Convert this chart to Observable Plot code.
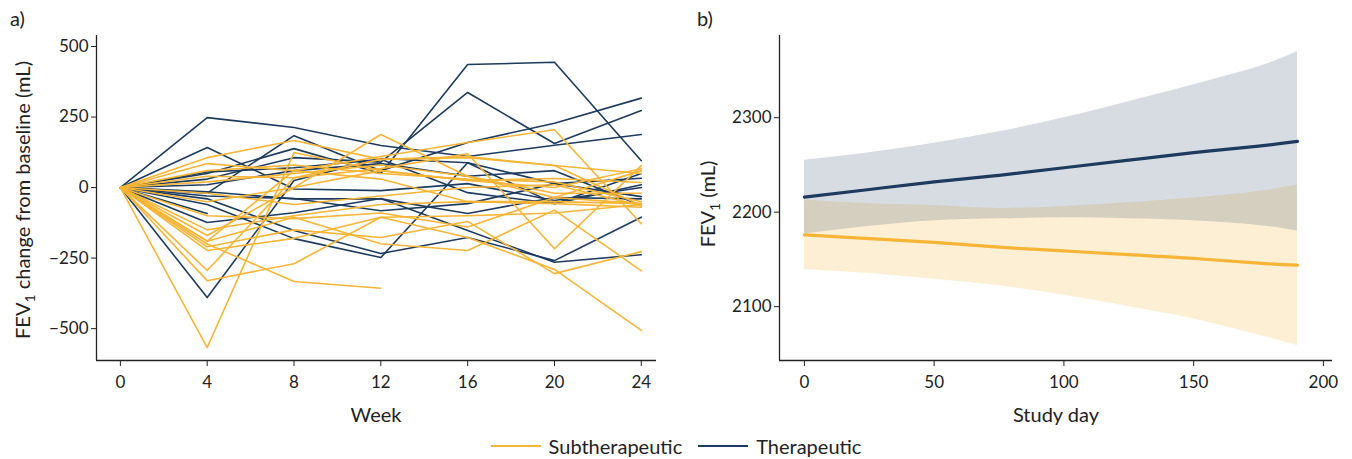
<!DOCTYPE html>
<html>
<head>
<meta charset="utf-8">
<script src="https://cdn.jsdelivr.net/npm/d3@7"></script>
<script src="https://cdn.jsdelivr.net/npm/@observablehq/plot@0.6"></script>
<style>
  body { margin: 0; background: #fff; font-family: "Source Sans Pro", Lato, sans-serif; color: #222; }
  #charts { display: flex; width: 1352px; }
  #legend { width: 1352px; height: 27px; display: flex; justify-content: center; align-items: center; font-size: 20px; }
  .item { display: flex; align-items: center; margin: 0 8px; }
  .swatch { width: 50px; height: 0; border-top: 2px solid; margin-right: 8px; }
</style>
</head>
<body>
<div id="charts"></div>
<div id="legend"></div>
<script>
// ---------- Panel a: individual FEV1 change from baseline (mL) ----------
const weeks = [0, 4, 8, 12, 16, 20, 24];
const weekTicks = [0, 4, 8, 12, 16, 20, 24];
const changeTicks = [-500, -250, 0, 250, 500];

const therapeutic = [
  [0, 248, 213, 149, 110, 150, 188],
  [0, 50, 138, 50, 436, 444, 95],
  [0, 142, -5, -11, 14, -46, 0],
  [0, 30, 106, 90, 337, 156, 273],
  [0, -20, 184, 60, 160, 228, 317],
  [0, -390, 25, 103, 88, 14, 33],
  [0, -124, -89, -39, -152, -265, -238],
  [0, -60, -181, -248, 88, -57, 50],
  [0, -40, -152, -234, -177, -259, -105],
  [0, 10, 60, 85, 40, 60, -64],
  [0, -92],
  [0, -30, -39, -82, -57, 14, -32],
  [0, 55, 70, 100, -18, -57, 10],
  [0, -15, -40, -40, -92, -35, -40]
];

const subtherapeutic = [
  [0, 106, 167, 100, 106, 78, -64],
  [0, 85, 60, 110, 160, 205, -128],
  [0, -50, 0, 188, 40, -35, -57],
  [0, -567, 124, 60, 25, 32, 18],
  [0, -200, -333, -357],
  [0, -294, 35, 67, 120, -217, 78],
  [0, -330, -270, -105, -177, -290, -506],
  [0, -190, -105, -199, -223, -80, -295],
  [0, -210, -150, -177, -120, -305, -227],
  [0, -170, 0, 60, 25, 0, 67],
  [0, -150, -100, -60, -50, -57, -70],
  [0, -223, -180, -105, -100, -90, -60],
  [0, 40, 35, 100, 110, 78, 50],
  [0, 20, 50, 80, 40, -20, -20],
  [0, -20, -60, -30, 0, 10, -64],
  [0, -100, -110, -90, -140, -35, 60],
  [0, -190, 60, 30, -50, -50, -57],
  [0, 60, 80, 50, 30, 20, -50]
];

// ---------- Panel b: modelled FEV1 (mL) with confidence bands ----------
const studyDays = [0, 25, 50, 75, 100, 125, 150, 175, 190];
const dayTicks = [0, 50, 100, 150, 200];
const fevTicks = [2100, 2200, 2300];
const therFit   = [2216, 2224, 2232, 2239, 2247, 2255, 2263, 2270, 2275];
const therUpper = [2255, 2263, 2273, 2285, 2300, 2317, 2335, 2354, 2370];
const therLower = [2177, 2185, 2191, 2193, 2194, 2193, 2191, 2186, 2180];
const subFit    = [2176, 2172, 2168, 2163, 2159, 2155, 2151, 2146, 2144];
const subUpper  = [2213, 2209, 2207, 2204, 2206, 2210, 2215, 2222, 2229];
const subLower  = [2139, 2135, 2129, 2122, 2112, 2100, 2087, 2070, 2059];

const groups = ["Subtherapeutic", "Therapeutic"];
const colors = ["#f6b536", "#1d3b5e"];

// build tables
function toRows(series, group) {
  const rows = [];
  series.forEach((s, i) => s.forEach((v, j) => {
    if (v != null) rows.push({id: group + i, group, week: weeks[j], change: v});
  }));
  return rows;
}
const therRows = toRows(therapeutic, "Therapeutic");
const subRows = toRows(subtherapeutic, "Subtherapeutic");
const bandRows = studyDays.map((d, i) => ({
  day: d, tf: therFit[i], tu: therUpper[i], tl: therLower[i],
  sf: subFit[i], su: subUpper[i], sl: subLower[i]
}));

const font = "'Source Sans Pro', Lato, sans-serif";
const W = 676, H = 432;
const xDomA = [-1.1, 24.7], yDomA = [-613, 539];
const xDomB = [-9.6, 203.5], yDomB = [2043, 2387];

const plotA = Plot.plot({
  width: W, height: H,
  marginLeft: 96, marginRight: 20, marginTop: 35, marginBottom: 72,
  style: {fontFamily: font, fontSize: "17px", color: "#222", background: "#fff"},
  x: {domain: xDomA, label: null},
  y: {domain: yDomA, label: null},
  color: {domain: groups, range: colors},
  marks: [
    Plot.line(therRows, {x: "week", y: "change", z: "id", stroke: "group", strokeWidth: 1.6}),
    Plot.line(subRows, {x: "week", y: "change", z: "id", stroke: "group", strokeWidth: 1.6}),
    Plot.ruleX([xDomA[0]], {stroke: "#222", strokeWidth: 1.3}),
    Plot.ruleY([yDomA[0]], {stroke: "#222", strokeWidth: 1.3}),
    Plot.axisX(weekTicks, {tickSize: 6, tickPadding: 9, label: null, tickFormat: d => String(d)}),
    Plot.axisY(changeTicks, {tickSize: 5, tickPadding: 3, label: null, tickFormat: d => (d < 0 ? "\u2212" + Math.abs(d) : String(d))})
  ]
});

const plotB = Plot.plot({
  width: W, height: H,
  marginLeft: 103, marginRight: 20, marginTop: 35, marginBottom: 72,
  style: {fontFamily: font, fontSize: "17px", color: "#222", background: "#fff"},
  x: {domain: xDomB, label: null},
  y: {domain: yDomB, label: null},
  marks: [
    Plot.areaY(bandRows, {x: "day", y1: "sl", y2: "su", fill: colors[0], fillOpacity: 0.22, curve: "natural"}),
    Plot.areaY(bandRows, {x: "day", y1: "tl", y2: "tu", fill: colors[1], fillOpacity: 0.18, curve: "natural"}),
    Plot.line(bandRows, {x: "day", y: "sf", stroke: colors[0], strokeWidth: 3.2, curve: "natural"}),
    Plot.line(bandRows, {x: "day", y: "tf", stroke: colors[1], strokeWidth: 3.2, curve: "natural"}),
    Plot.ruleX([xDomB[0]], {stroke: "#222", strokeWidth: 1.3}),
    Plot.ruleY([yDomB[0]], {stroke: "#222", strokeWidth: 1.3}),
    Plot.axisX(dayTicks, {tickSize: 6, tickPadding: 9, label: null, tickFormat: d => String(d)}),
    Plot.axisY(fevTicks, {tickSize: 5, tickPadding: 3, label: null, tickFormat: d => String(d)})
  ]
});

function addText(svg, x, y, txt, opts = {}) {
  const t = d3.select(svg).append("text")
    .attr("x", x).attr("y", y)
    .attr("font-size", opts.size || 20)
    .attr("font-family", font)
    .attr("fill", "#222")
    .attr("text-anchor", opts.anchor || "middle");
  if (opts.rotate) t.attr("transform", `rotate(-90 ${x} ${y})`);
  return t;
}
function fevLabel(svg, x, y, rest) {
  const t = addText(svg, x, y, "", {rotate: true});
  t.append("tspan").text("FEV");
  t.append("tspan").attr("font-size", 14).attr("dy", 5).text("1");
  t.append("tspan").attr("dy", -5).text(rest);
}

addText(plotA, 10, 26, "", {anchor: "start", size: 20}).text("a)");
addText(plotA, 376, 422, "").text("Week");
fevLabel(plotA, 30, 200, " change from baseline (mL)");

addText(plotB, 21, 26, "", {anchor: "start", size: 20}).text("b)");
addText(plotB, 380, 422, "").text("Study day");
fevLabel(plotB, 39, 204, " (mL)");

document.getElementById("charts").append(plotA, plotB);

const legend = document.getElementById("legend");
groups.forEach((g, i) => {
  const item = document.createElement("div");
  item.className = "item";
  const sw = document.createElement("div");
  sw.className = "swatch";
  sw.style.borderTopColor = colors[i];
  const lab = document.createElement("span");
  lab.textContent = g;
  item.append(sw, lab);
  legend.append(item);
});
</script>
</body>
</html>
